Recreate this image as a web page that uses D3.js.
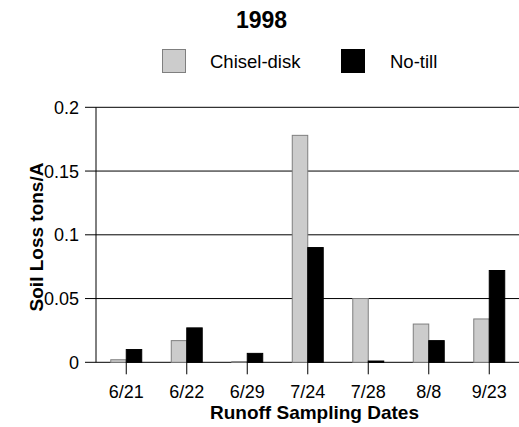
<!DOCTYPE html>
<html>
<head>
<meta charset="utf-8">
<script src="https://cdn.jsdelivr.net/npm/d3@7"></script>
<style>
html,body{margin:0;padding:0;background:#fff;}
svg{display:block;font-family:"Liberation Sans",Arial,sans-serif;}
</style>
</head>
<body>
<svg id="chart" width="519" height="427"></svg>
<script>
const title = "1998";
const categories = ["6/21","6/22","6/29","7/24","7/28","8/8","9/23"];
const seriesNames = ["Chisel-disk","No-till"];
const chiselDisk = [0.002,0.017,0.0005,0.178,0.05,0.03,0.034];
const noTill = [0.01,0.027,0.007,0.09,0.001,0.017,0.072];
const yTicks = [0,0.05,0.1,0.15,0.2];
const yTickLabels = ["0","0.05","0.1","0.15","0.2"];
const colors = ["#cccccc","#000000"];
const strokes = ["#7f7f7f","#000000"];

const svg = d3.select("#chart");
const pLeft = 96, pRight = 519.5, pTop = 107.3, pBottom = 362.3;

const x0 = d3.scaleBand().domain(categories).range([pLeft, pRight]).paddingInner(0.488).paddingOuter(0.244);
const x1 = d3.scaleBand().domain(seriesNames).range([0, x0.bandwidth()]);
const y = d3.scaleLinear().domain([0,0.2]).range([pBottom, pTop]);

// gridlines
svg.append("g").selectAll("line").data(yTicks).join("line")
  .attr("x1", pLeft - 11).attr("x2", 519)
  .attr("y1", d => y(d)).attr("y2", d => y(d))
  .attr("stroke", "#000").attr("stroke-width", 1);

// left axis line
svg.append("line").attr("x1", pLeft).attr("x2", pLeft).attr("y1", y(0.2)).attr("y2", y(0))
  .attr("stroke", "#000");

// y tick labels
svg.append("g").selectAll("text").data(yTicks).join("text")
  .attr("x", 79).attr("y", d => y(d) + 6.5)
  .attr("text-anchor", "end").attr("font-size", "18px").attr("fill", "#000")
  .text((d,i) => yTickLabels[i]);

// bars
const rows = categories.map((c,i) => ({cat:c, vals:[chiselDisk[i], noTill[i]]}));
const g = svg.append("g").selectAll("g").data(rows).join("g")
  .attr("transform", d => `translate(${x0(d.cat)},0)`);
g.selectAll("rect").data(d => d.vals.map((v,j) => ({s:seriesNames[j], v, j}))).join("rect")
  .attr("x", d => x1(d.s)).attr("width", x1.bandwidth())
  .attr("y", d => y(d.v)).attr("height", d => y(0) - y(d.v))
  .attr("fill", d => colors[d.j]).attr("stroke", d => strokes[d.j]).attr("stroke-width", 1);

// x axis ticks below
svg.append("g").selectAll("line").data(categories).join("line")
  .attr("x1", d => x0(d) + x0.bandwidth()/2).attr("x2", d => x0(d) + x0.bandwidth()/2)
  .attr("y1", pBottom).attr("y2", pBottom + 12)
  .attr("stroke", "#000");

svg.append("g").selectAll("text").data(categories).join("text")
  .attr("x", d => x0(d) + x0.bandwidth()/2).attr("y", 398)
  .attr("text-anchor", "middle").attr("font-size", "18px").text(d => d);

// axis titles
svg.append("text").attr("x", 314.5).attr("y", 419).attr("text-anchor", "middle")
  .attr("font-size", "19px").attr("font-weight", "bold").text("Runoff Sampling Dates");
svg.append("text").attr("transform", "translate(42.5,237) rotate(-90)").attr("text-anchor", "middle")
  .attr("font-size", "19px").attr("font-weight", "bold").text("Soil Loss tons/A");

// title
svg.append("text").attr("x", 261.5).attr("y", 28).attr("text-anchor", "middle")
  .attr("font-size", "23px").attr("font-weight", "bold").text(title);

// legend
const legX = [162.5, 341.5], legTextX = [210, 390];
const leg = svg.append("g").selectAll("g").data(seriesNames).join("g");
leg.append("rect").attr("x", (d,i) => legX[i]).attr("y", 49.5).attr("width", 23).attr("height", 23)
  .attr("fill", (d,i) => colors[i]).attr("stroke", (d,i) => strokes[i]);
leg.append("text").attr("x", (d,i) => legTextX[i]).attr("y", 68)
  .attr("font-size", "18.5px").text(d => d);
</script>
</body>
</html>
